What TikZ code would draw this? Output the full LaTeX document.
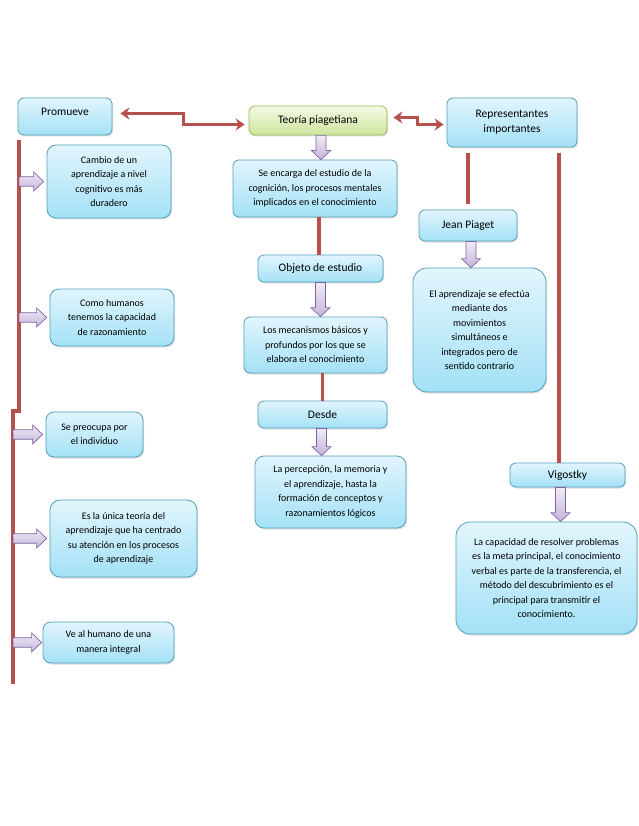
\documentclass[tikz,border=0pt]{standalone}
\usepackage{fontspec}
\setmainfont{Carlito}
\usetikzlibrary{calc,shadows,arrows.meta}
\definecolor{boxtop}{RGB}{226,245,252}
\definecolor{boxbot}{RGB}{163,225,246}
\definecolor{boxline}{RGB}{84,160,188}
\definecolor{grtop}{RGB}{244,249,228}
\definecolor{grbot}{RGB}{205,229,155}
\definecolor{grline}{RGB}{155,187,89}
\definecolor{redl}{RGB}{181,80,77}
\definecolor{purtop}{RGB}{240,235,247}
\definecolor{purbot}{RGB}{196,180,218}
\definecolor{purline}{RGB}{128,100,162}
\begin{document}
\begin{tikzpicture}[x=1pt,y=-1pt,
  box/.style={draw=boxline, line width=0.8pt, rounded corners=6pt,
    top color=boxtop, bottom color=boxbot, align=center, inner sep=2pt,
    drop shadow={shadow xshift=1pt,shadow yshift=-1.5pt,opacity=0.25},
    font=\fontsize{10}{14.5}\selectfont},
  title/.style={box, font=\fontsize{11.5}{15}\selectfont},
  greenbox/.style={title, draw=grline, top color=grtop, bottom color=grbot},
  redline/.style={draw=redl, line width=3.6pt},
  dblarrow/.style={draw=redl, line width=3.4pt,
    {Stealth[length=9pt,width=12pt,inset=3pt]}-{Stealth[length=9pt,width=12pt,inset=3pt]}},
  purple/.style={draw=purline, line width=0.7pt, top color=purtop, bottom color=purbot},
  vblk/.style={purple, to path={
    let \p1=(\tikztostart), \p2=(\tikztotarget) in
    (\x1-5pt,\y1) -- (\x1+5pt,\y1) -- (\x1+5pt,\y2+9pt) -- (\x1+9.5pt,\y2+9pt)
    -- (\x1,\y2) -- (\x1-9.5pt,\y2+9pt) -- (\x1-5pt,\y2+9pt) -- cycle}},
  hblk/.style={purple, to path={
    let \p1=(\tikztostart), \p2=(\tikztotarget) in
    (\x1,\y1+4.7pt) -- (\x2-10pt,\y1+4.7pt) -- (\x2-10pt,\y1+9.5pt) -- (\x2,\y1)
    -- (\x2-10pt,\y1-9.5pt) -- (\x2-10pt,\y1-4.7pt) -- (\x1,\y1-4.7pt) -- cycle}}
]
\fill[white] (0,0) rectangle (638,826);
\useasboundingbox (0,0) rectangle (638,826);

% top row
\node[title, minimum width=94pt, minimum height=37pt, text depth=9pt] (prom) at (65,116.5) {Promueve};
\node[greenbox, minimum width=138pt, minimum height=29pt] (teoria) at (318,120.5) {Teoría piagetiana};
\node[title, minimum width=130pt, minimum height=49pt] (rep) at (512,122.5) {Representantes\\importantes};

% centre column
\node[box, minimum width=164pt, minimum height=57pt] (encarga) at (315,188.5)
  {Se encarga del estudio de la\\cognición, los procesos mentales\\implicados en el conocimiento};
\node[title, minimum width=125pt, minimum height=27pt] (objeto) at (320.5,268.5) {Objeto de estudio};
\node[box, minimum width=143pt, minimum height=56pt] (mecan) at (315.5,345)
  {Los mecanismos básicos y\\profundos por los que se\\elabora el conocimiento};
\node[title, minimum width=129pt, minimum height=27pt] (desde) at (322.5,414.5) {Desde};
\node[box, minimum width=151pt, minimum height=72pt, rounded corners=9pt] (percep) at (330.5,492)
  {La percepción, la memoria y\\el aprendizaje, hasta la\\formación de conceptos y\\razonamientos lógicos};

% right column
\node[title, minimum width=98pt, minimum height=31pt] (jean) at (468,225.5) {Jean Piaget};
\node[box, minimum width=133pt, minimum height=124pt, rounded corners=14pt] (aprend) at (479.5,330)
  {El aprendizaje se efectúa\\mediante dos\\movimientos\\simultáneos e\\integrados pero de\\sentido contrario};
\node[title, minimum width=115pt, minimum height=24pt] (vig) at (567.5,475) {Vigostky};
\node[box, minimum width=181pt, minimum height=112pt, rounded corners=14pt] (capac) at (546.5,578)
  {La capacidad de resolver problemas\\es la meta principal, el conocimiento\\verbal es parte de la transferencia, el\\método del descubrimiento es el\\principal para transmitir el\\conocimiento.};

% left column
\node[box, minimum width=124pt, minimum height=73pt, rounded corners=9pt] (cambio) at (109,181.5)
  {Cambio de un\\aprendizaje a nivel\\cognitivo es más\\duradero};
\node[box, minimum width=124pt, minimum height=57pt, rounded corners=9pt] (como) at (112,317.5)
  {Como humanos\\tenemos la capacidad\\de razonamiento};
\node[box, minimum width=97pt, minimum height=45pt, rounded corners=8pt] (preoc) at (94.5,434.5)
  {Se preocupa por\\el individuo};
\node[box, minimum width=147pt, minimum height=77pt, rounded corners=10pt] (unica) at (123.5,538.5)
  {Es la única teoría del\\aprendizaje que ha centrado\\su atención en los procesos\\de aprendizaje};
\node[box, minimum width=131pt, minimum height=41pt, rounded corners=8pt] (ve) at (108.5,642.5)
  {Ve al humano de una\\manera integral};

% red double arrows
\draw[dblarrow] ($(prom.east)+(8,-3)$) -- ++(63,0) -- ++(0,11) -- ($(teoria.west)+(-4,4)$);
\draw[dblarrow] ($(teoria.east)+(6,-3)$) -- ++(24,0) -- ++(0,7) -- ($(rep.west)+(-3,2)$);

% red lines
\draw[redline] ($(encarga.south)+(4,0)$) -- ($(objeto.north)+(-1.5,0)$);
\draw[redline] (desde.north |- mecan.south) -- (desde.north);
\draw[redline] ($(rep.south -| jean.north)+(0,6)$) -- ($(jean.north)+(0,-6)$);
\draw[redline] ($(rep.south)+(47,6)$) coordinate (r2) -- (r2 |- vig.north);
\coordinate (lt) at (19,140);
\coordinate (lm) at (19,411);
\coordinate (lm2) at (13,411);
\coordinate (lb) at (13,684);
\draw[redline] (lt) -- (lm) -- (lm2) -- (lb);

% purple block arrows (vertical)
\draw[vblk] ($(teoria.south)+(3,0)$) to (encarga.north);
\draw[vblk] (objeto.south) to (mecan.north);
\draw[vblk] ($(desde.south)+(-1,0)$) to (percep.north);
\draw[vblk] ($(jean.south)+(3,0)$) to (aprend.north);
\draw[vblk] ($(vig.south)+(-7,0)$) to (capac.north);

% purple block arrows (horizontal)
\draw[hblk] (cambio.west -| lt) to ($(cambio.west)+(-3,0)$);
\draw[hblk] (como.west -| lt) to ($(como.west)+(-3,0)$);
\draw[hblk] (preoc.west -| lb) to ($(preoc.west)+(-3,0)$);
\draw[hblk] (unica.west -| lb) to ($(unica.west)+(-3,0)$);
\draw[hblk] (ve.west -| lb) to ($(ve.west)+(-1,0)$);
\end{tikzpicture}
\end{document}
